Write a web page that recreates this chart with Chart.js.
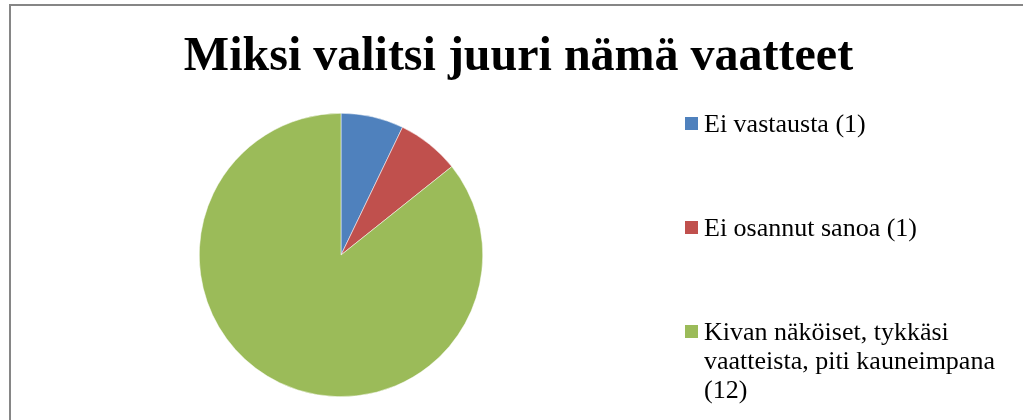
<!DOCTYPE html>
<html>
<head>
<meta charset="utf-8">
<script src="https://cdn.jsdelivr.net/npm/chart.js@4.4.1/dist/chart.umd.min.js"></script>
<style>
  html, body { margin: 0; padding: 0; background: #fff; }
  #wrap { position: relative; width: 1023px; height: 420px; overflow: hidden; }
</style>
</head>
<body>
<div id="wrap">
  <canvas id="pieChart" width="1023" height="420"></canvas>
</div>
<script>
"use strict";

const chartTitle = "Miksi valitsi juuri nämä vaatteet";
const categories = [
  "Ei vastausta (1)",
  "Ei osannut sanoa (1)",
  "Kivan näköiset, tykkäsi vaatteista, piti kauneimpana (12)"
];
const answerCounts = [1, 1, 12];
const sliceColors = ["#4F81BD", "#C0504D", "#9BBB59"];

const serif = "'Liberation Serif', 'Times New Roman', serif";

// split a legend text into lines that fit maxWidth
function wrapText(ctx, text, maxWidth) {
  const words = text.split(" ");
  const lines = [];
  let line = "";
  words.forEach(w => {
    const test = line ? line + " " + w : w;
    if (ctx.measureText(test).width > maxWidth && line) {
      lines.push(line);
      line = w;
    } else {
      line = test;
    }
  });
  if (line) lines.push(line);
  return lines;
}

// ----------------------------
// Frame, title and side legend
// ----------------------------
const sideDecor = {
  id: "sideDecor",
  beforeDraw(chart) {
    const ctx = chart.ctx;
    ctx.save();
    ctx.strokeStyle = "#868686";
    ctx.lineWidth = 2;
    ctx.strokeRect(10, 5, 1200, 600);
    ctx.restore();
  },
  afterDraw(chart) {
    const ctx = chart.ctx;
    ctx.save();
    ctx.fillStyle = "#000";
    ctx.textBaseline = "alphabetic";

    ctx.font = "bold 48px " + serif;
    ctx.textAlign = "center";
    ctx.fillText(chartTitle, 518.5, 70);

    ctx.font = "26px " + serif;
    ctx.textAlign = "left";
    const labels = chart.data.labels;
    const colors = chart.data.datasets[0].backgroundColor;
    labels.forEach((label, i) => {
      const base = 132 + i * 104;
      ctx.fillStyle = colors[i];
      ctx.fillRect(685, base - 15, 13, 13);
      ctx.fillStyle = "#000";
      wrapText(ctx, label, 312).forEach((ln, j) => {
        ctx.fillText(ln, 704, base + j * 29);
      });
    });
    ctx.restore();
  }
};

const ctx = document.getElementById("pieChart").getContext("2d");
const chart = new Chart(ctx, {
  type: "pie",
  data: {
    labels: categories,
    datasets: [{
      data: answerCounts,
      backgroundColor: sliceColors,
      borderColor: "#ffffff",
      borderWidth: 0.5
    }]
  },
  options: {
    responsive: false,
    animation: false,
    devicePixelRatio: 1,
    layout: {
      padding: { top: 113, bottom: 23, left: 14, right: 355 }
    },
    plugins: {
      legend: { display: false },
      title: { display: false },
      tooltip: { enabled: true }
    }
  },
  plugins: [sideDecor]
});
</script>
</body>
</html>
